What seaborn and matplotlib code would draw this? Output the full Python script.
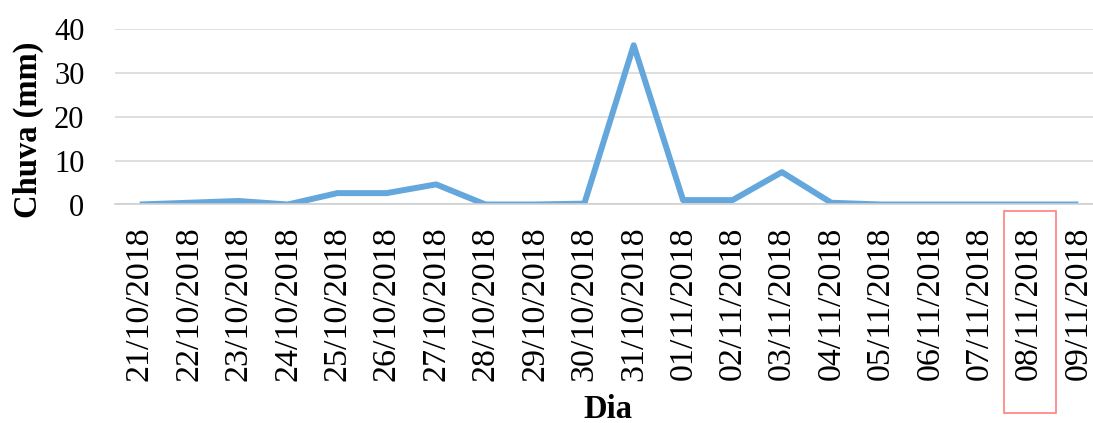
import matplotlib
matplotlib.use("Agg")
import matplotlib.pyplot as plt
import seaborn as sns
import pandas as pd
import numpy as np
from matplotlib.patches import Rectangle

# Daten (Chuva diaria)
dias = ["21/10/2018", "22/10/2018", "23/10/2018", "24/10/2018", "25/10/2018",
        "26/10/2018", "27/10/2018", "28/10/2018", "29/10/2018", "30/10/2018",
        "31/10/2018", "01/11/2018", "02/11/2018", "03/11/2018", "04/11/2018",
        "05/11/2018", "06/11/2018", "07/11/2018", "08/11/2018", "09/11/2018"]
chuva = [0.0, 0.4, 0.8, 0.0, 2.6, 2.6, 4.6, 0.0, 0.0, 0.2,
         36.4, 1.0, 1.0, 7.4, 0.4, 0.0, 0.0, 0.0, 0.0, 0.0]
y_ticks = [0, 10, 20, 30, 40]
destaque = "08/11/2018"

df = pd.DataFrame({"dia": dias, "chuva": chuva})

sns.set_style("white")
plt.rcParams['font.family'] = ['Liberation Serif', 'DejaVu Serif']
plt.rcParams['text.color'] = "black"
plt.rcParams['xtick.labelcolor'] = "black"
plt.rcParams['ytick.labelcolor'] = "black"

fig = plt.figure(figsize=(10.93, 4.23), dpi=100)
ax = fig.add_axes([115 / 1093, 1 - 204.5 / 423, 988 / 1093, 175 / 423])

sns.lineplot(data=df, x="dia", y="chuva", sort=False, ax=ax,
             color="#64a7dc", linewidth=4.3, solid_joinstyle="round",
             solid_capstyle="butt")

ax.set_ylim(0, 40)
ax.set_xlim(-0.5, len(dias) - 0.5)
ax.set_yticks(y_ticks)
ax.yaxis.grid(True, color="#d9d9d9", linewidth=1.2)
ax.set_axisbelow(True)

# Achsen im Excel-Stil
for s in ["top", "right", "left"]:
    ax.spines[s].set_visible(False)
ax.spines["bottom"].set_color("#d0d0d0")
ax.spines["bottom"].set_linewidth(1.2)

ax.set_xticks(range(len(dias)))
ax.set_xticklabels(dias, rotation=90, fontsize=24.5, color="black")
ax.set_xticks(np.arange(-0.5, len(dias), 1.0), minor=True)
ax.tick_params(axis="x", which="major", length=0, pad=16)
ax.tick_params(axis="x", which="minor", length=7, width=1.2, color="#d0d0d0")
ax.tick_params(axis="y", length=0, pad=22, labelsize=22, labelcolor="black")

ax.set_xlabel("")
ax.set_ylabel("")
fig.text(28 / 1093, 1 - 130 / 423, "Chuva (mm)", rotation=90, fontsize=23.5,
         fontweight="bold", ha="center", va="center", color="black")
fig.text(608 / 1093, 1 - 409 / 423, "Dia", fontsize=23.5, fontweight="bold",
         ha="center", va="center", color="black")

# Markierung um 08/11/2018
fig.patches.append(Rectangle((1004 / 1093, 1 - 412.5 / 423), 52 / 1093, 201 / 423,
                             transform=fig.transFigure, fill=False,
                             edgecolor="#ff7f7f", linewidth=1.2))

fig.savefig("out.png", dpi=100)
